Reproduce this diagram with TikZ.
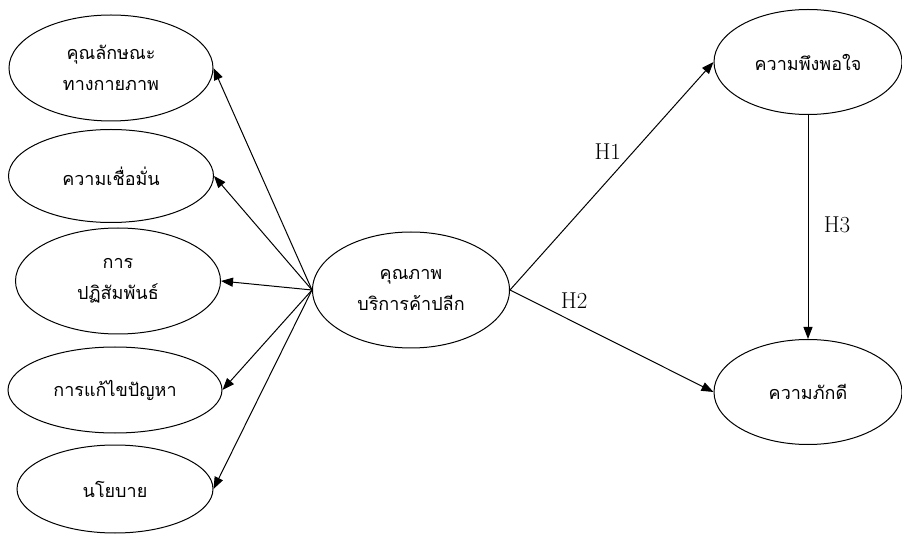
\documentclass[tikz,border=0pt]{standalone}
\usepackage{fontspec}
\newfontfamily\thaifont[Script=Thai]{Loma}
\usetikzlibrary{shapes.geometric,arrows.meta}
\begin{document}
\begin{tikzpicture}[x=1pt,y=-1pt,
  construct/.style={draw,ellipse,line width=1pt,inner sep=0pt,align=center,
    font=\thaifont\fontsize{18}{31}\selectfont},
  link/.style={line width=1pt,-{Triangle[length=12pt,width=9pt]}},
  hyp/.style={font=\fontsize{23}{26}\selectfont}]
\useasboundingbox (0,0) rectangle (902,534);
% dimensions of the quality construct
\node[construct,minimum width=204,minimum height=106] (phys) at (111,68) {คุณลักษณะ\\ทางกายภาพ};
\node[construct,minimum width=205,minimum height=93] (trust) at (111,176) {ความเชื่อมั่น};
\node[construct,minimum width=205,minimum height=106] (inter) at (118,281) {การ\\ปฏิสัมพันธ์};
\node[construct,minimum width=214,minimum height=86] (solve) at (115,390) {การแก้ไขปัญหา};
\node[construct,minimum width=196,minimum height=88] (policy) at (115,489) {นโยบาย};
% central construct and outcomes
\node[construct,minimum width=197,minimum height=116] (qual) at (411,290) {คุณภาพ\\บริการค้าปลีก};
\node[construct,minimum width=188,minimum height=105] (sat) at (808,62) {ความพึงพอใจ};
\node[construct,minimum width=188,minimum height=105] (loyal) at (808,392) {ความภักดี};
% paths
\foreach \t in {phys,trust,inter,solve,policy}
  \draw[link] (qual.west) -- (\t.east);
\draw[link] (qual.east) -- (sat.west) node[hyp,pos=0.5,xshift=-4pt,yshift=24pt] {H1};
\draw[link] (qual.east) -- (loyal.west) node[hyp,pos=0.35,xshift=-7pt,yshift=25pt] {H2};
\draw[link] (sat.south) -- (loyal.north) node[hyp,midway,xshift=29pt,yshift=2pt] {H3};
\end{tikzpicture}
\end{document}
